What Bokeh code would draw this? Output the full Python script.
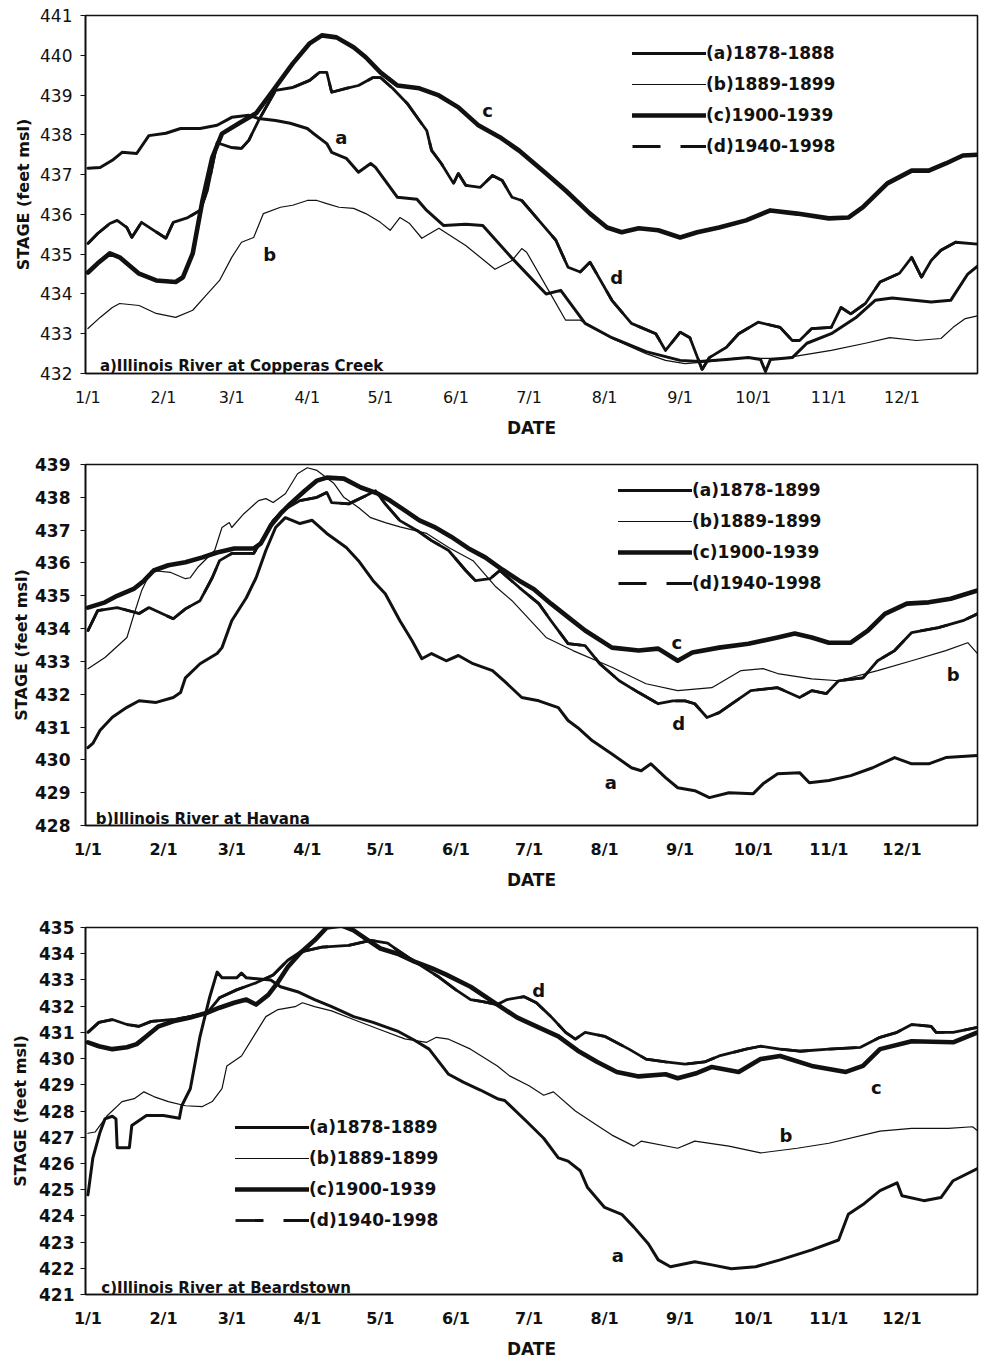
from bokeh.plotting import figure
from bokeh.layouts import column
from bokeh.models import Range1d, FixedTicker, Label, Legend, LegendItem
from bokeh.embed import file_html
from bokeh.resources import INLINE
from bokeh.core.properties import value

# ---------------- data (day of year, stage in feet msl) ----------------
month_ticks = [0, 31, 59, 90, 120, 151, 181, 212, 243, 273, 304, 334]
month_labels = ["1/1", "2/1", "3/1", "4/1", "5/1", "6/1", "7/1", "8/1", "9/1", "10/1", "11/1", "12/1"]

# Panel a) Copperas Creek
cc_a_day = [0, 5, 10, 14, 20, 25, 32, 38, 46, 53, 59, 66, 70, 77, 83, 90, 92, 98, 100, 106, 111, 116, 118, 127, 135, 139, 146, 155, 162, 174, 188, 194, 204, 215, 229, 243, 251, 262, 271, 276, 278, 280, 289, 295, 305, 315, 323, 330, 346, 354, 361, 365]
cc_a_stage = [437.16, 437.18, 437.36, 437.56, 437.53, 437.98, 438.04, 438.16, 438.16, 438.24, 438.44, 438.49, 438.41, 438.36, 438.29, 438.16, 438.06, 437.78, 437.56, 437.41, 437.06, 437.28, 437.18, 436.43, 436.38, 436.1, 435.72, 435.75, 435.72, 434.9, 434.0, 434.09, 433.26, 432.9, 432.55, 432.33, 432.3, 432.35, 432.4, 432.35, 432.05, 432.35, 432.4, 432.76, 433.0, 433.4, 433.84, 433.9, 433.8, 433.84, 434.5, 434.7]
cc_b_day = [0, 5, 10, 13, 21, 28, 36, 43, 49, 54, 59, 63, 68, 72, 79, 84, 90, 94, 98, 103, 109, 114, 120, 124, 128, 132, 137, 144, 155, 167, 174, 178, 180, 189, 196, 202, 215, 229, 237, 245, 255, 265, 285, 305, 319, 329, 340, 350, 355, 360, 365]
cc_b_stage = [433.13, 433.41, 433.66, 433.76, 433.71, 433.51, 433.41, 433.59, 434.0, 434.34, 434.92, 435.3, 435.42, 436.02, 436.18, 436.23, 436.35, 436.35, 436.27, 436.18, 436.15, 436.02, 435.8, 435.6, 435.92, 435.77, 435.4, 435.65, 435.22, 434.62, 434.84, 435.14, 435.05, 434.09, 433.34, 433.34, 432.88, 432.5, 432.33, 432.25, 432.3, 432.38, 432.38, 432.58, 432.76, 432.9, 432.83, 432.88, 433.16, 433.38, 433.45]
cc_c_day = [0, 4, 9, 13, 21, 28, 36, 39, 43, 47, 51, 55, 62, 69, 76, 84, 91, 96, 102, 109, 114, 120, 127, 136, 144, 152, 160, 169, 177, 188, 196, 206, 213, 219, 226, 234, 243, 250, 259, 270, 280, 291, 304, 312, 318, 328, 338, 345, 352, 359, 365]
cc_c_stage = [434.54, 434.77, 435.02, 434.92, 434.51, 434.34, 434.3, 434.42, 435.02, 436.35, 437.43, 438.03, 438.29, 438.54, 439.12, 439.79, 440.3, 440.5, 440.45, 440.2, 439.95, 439.57, 439.24, 439.17, 438.99, 438.69, 438.25, 437.94, 437.6, 437.03, 436.6, 436.02, 435.67, 435.55, 435.65, 435.6, 435.42, 435.55, 435.67, 435.85, 436.1, 436.02, 435.9, 435.92, 436.18, 436.78, 437.1, 437.1, 437.28, 437.48, 437.5]
cc_d_day = [0, 4, 9, 12, 16, 18, 22, 27, 32, 35, 41, 46, 49, 53, 59, 63, 66, 70, 77, 84, 91, 95, 98, 100, 106, 111, 117, 120, 125, 131, 136, 139, 141, 145, 150, 152, 155, 161, 166, 170, 174, 178, 185, 192, 197, 202, 206, 215, 223, 233, 237, 243, 247, 252, 255, 262, 267, 275, 284, 289, 292, 297, 305, 309, 313, 319, 325, 333, 338, 342, 346, 350, 356, 365]
cc_d_stage = [435.27, 435.52, 435.77, 435.85, 435.67, 435.42, 435.8, 435.6, 435.4, 435.8, 435.92, 436.1, 436.6, 437.8, 437.68, 437.66, 437.86, 438.36, 439.12, 439.19, 439.37, 439.57, 439.57, 439.07, 439.17, 439.24, 439.44, 439.44, 439.17, 438.79, 438.36, 438.11, 437.61, 437.28, 436.78, 437.03, 436.73, 436.68, 436.98, 436.85, 436.43, 436.35, 435.85, 435.35, 434.67, 434.55, 434.8, 433.84, 433.26, 433.0, 432.58, 433.04, 432.9, 432.1, 432.4, 432.66, 433.0, 433.29, 433.16, 432.83, 432.83, 433.13, 433.16, 433.66, 433.5, 433.76, 434.3, 434.52, 434.92, 434.42, 434.84, 435.1, 435.3, 435.25]

# Panel b) Havana
hv_a_day = [0, 2, 5, 10, 16, 21, 28, 35, 38, 40, 46, 53, 55, 59, 65, 69, 73, 77, 81, 87, 92, 98, 106, 111, 117, 122, 128, 133, 137, 141, 147, 152, 158, 166, 172, 178, 185, 193, 197, 201, 207, 215, 223, 227, 231, 237, 242, 249, 255, 263, 273, 277, 283, 292, 296, 304, 313, 322, 331, 338, 345, 352, 365]
hv_a_stage = [430.37, 430.5, 430.9, 431.3, 431.6, 431.8, 431.75, 431.9, 432.05, 432.5, 432.93, 433.24, 433.42, 434.24, 434.94, 435.55, 436.38, 437.08, 437.38, 437.2, 437.3, 436.9, 436.47, 436.07, 435.46, 435.06, 434.24, 433.63, 433.08, 433.24, 433.02, 433.18, 432.93, 432.72, 432.32, 431.9, 431.8, 431.59, 431.2, 430.98, 430.58, 430.18, 429.76, 429.67, 429.88, 429.46, 429.15, 429.06, 428.85, 429.0, 428.97, 429.27, 429.58, 429.61, 429.3, 429.37, 429.52, 429.76, 430.07, 429.88, 429.88, 430.07, 430.13]
hv_b_day = [0, 7, 16, 19, 22, 26, 34, 40, 42, 45, 52, 55, 58, 59, 64, 70, 73, 76, 81, 86, 90, 94, 101, 105, 111, 116, 122, 128, 139, 148, 158, 167, 174, 188, 199, 215, 229, 242, 256, 268, 277, 283, 297, 308, 324, 338, 352, 361, 365]
hv_b_stage = [432.78, 433.12, 433.73, 434.46, 435.15, 435.77, 435.71, 435.52, 435.55, 435.86, 436.38, 437.08, 437.23, 437.08, 437.5, 437.9, 437.96, 437.84, 438.11, 438.72, 438.9, 438.82, 438.42, 438.0, 437.69, 437.38, 437.23, 437.1, 436.9, 436.47, 436.07, 435.3, 434.85, 433.73, 433.33, 432.82, 432.32, 432.11, 432.2, 432.72, 432.78, 432.63, 432.47, 432.41, 432.72, 433.02, 433.33, 433.57, 433.24]
hv_c_day = [0, 7, 12, 19, 23, 27, 33, 40, 47, 53, 60, 68, 71, 75, 79, 83, 89, 94, 98, 105, 112, 119, 124, 130, 136, 142, 149, 156, 163, 170, 177, 183, 190, 197, 204, 215, 226, 234, 242, 248, 259, 271, 283, 290, 297, 304, 313, 320, 327, 336, 345, 354, 365]
hv_c_stage = [434.64, 434.8, 435.0, 435.22, 435.46, 435.77, 435.93, 436.02, 436.17, 436.32, 436.44, 436.44, 436.6, 437.14, 437.5, 437.8, 438.2, 438.51, 438.6, 438.57, 438.3, 438.11, 437.9, 437.6, 437.3, 437.1, 436.8, 436.45, 436.17, 435.8, 435.46, 435.2, 434.76, 434.35, 433.94, 433.42, 433.33, 433.39, 433.02, 433.27, 433.42, 433.54, 433.73, 433.85, 433.73, 433.57, 433.57, 433.94, 434.45, 434.76, 434.8, 434.91, 435.16]
hv_d_day = [0, 4, 12, 21, 25, 35, 40, 46, 51, 54, 59, 68, 72, 76, 80, 87, 94, 98, 100, 107, 114, 118, 122, 128, 135, 141, 148, 155, 159, 165, 169, 177, 185, 190, 197, 204, 210, 218, 226, 234, 240, 245, 249, 254, 259, 264, 272, 283, 292, 297, 303, 308, 318, 324, 331, 338, 349, 359, 365]
hv_d_stage = [433.94, 434.55, 434.64, 434.46, 434.64, 434.3, 434.6, 434.85, 435.55, 436.07, 436.29, 436.29, 436.77, 437.29, 437.6, 437.9, 438.0, 438.15, 437.84, 437.8, 438.05, 438.2, 437.8, 437.29, 436.99, 436.68, 436.38, 435.77, 435.46, 435.52, 435.77, 435.25, 434.76, 434.24, 433.54, 433.48, 432.93, 432.41, 432.05, 431.71, 431.8, 431.8, 431.71, 431.29, 431.44, 431.7, 432.11, 432.2, 431.9, 432.11, 432.02, 432.41, 432.5, 433.02, 433.33, 433.88, 434.03, 434.24, 434.45]

# Panel c) Beardstown
bt_a_day = [0, 2, 5, 7, 10, 11.5, 12, 17, 18, 24, 31, 37.5, 38.5, 42, 46, 50, 53, 55, 61, 63, 65, 75, 79, 86, 93, 100, 109, 117, 127, 134, 140, 148, 154, 161, 168, 171, 180, 187, 193, 197, 202, 205, 212, 219, 224, 230, 234, 239, 249, 256, 264, 274, 284, 297, 308, 312, 318, 325, 332, 334, 343, 350, 355, 365]
bt_a_stage = [424.8, 426.2, 427.2, 427.7, 427.8, 427.7, 426.6, 426.6, 427.45, 427.83, 427.83, 427.72, 428.2, 428.85, 430.85, 432.36, 433.3, 433.08, 433.08, 433.26, 433.08, 433.0, 432.74, 432.55, 432.25, 431.98, 431.6, 431.38, 431.05, 430.7, 430.36, 429.4, 429.1, 428.8, 428.47, 428.4, 427.6, 426.96, 426.21, 426.09, 425.72, 425.08, 424.32, 424.06, 423.57, 422.93, 422.32, 422.06, 422.25, 422.13, 421.98, 422.06, 422.32, 422.7, 423.08, 424.06, 424.43, 424.96, 425.26, 424.77, 424.58, 424.7, 425.34, 425.8]
bt_b_day = [0, 3, 8, 14, 19, 23, 27, 33, 40, 47, 51, 55, 57, 63, 69, 73, 78, 85, 88, 93, 100, 110, 120, 130, 139, 143, 148, 157, 168, 173, 181, 187, 191, 200, 209, 215, 224, 227, 242, 249, 263, 276, 291, 304, 325, 338, 353, 363, 365]
bt_b_stage = [427.15, 427.2, 427.83, 428.36, 428.47, 428.73, 428.55, 428.36, 428.2, 428.17, 428.36, 428.85, 429.72, 430.1, 431.0, 431.6, 431.87, 431.98, 432.13, 431.98, 431.82, 431.45, 431.1, 430.75, 430.62, 430.81, 430.74, 430.36, 429.72, 429.34, 428.96, 428.6, 428.73, 428.0, 427.45, 427.08, 426.66, 426.85, 426.58, 426.85, 426.66, 426.4, 426.58, 426.77, 427.23, 427.34, 427.34, 427.4, 427.25]
bt_c_day = [0, 4.5, 10, 16, 20, 24, 29, 35, 42, 49, 54, 60, 65, 69, 74, 78, 82, 87, 93, 98, 104, 109, 115, 120, 127, 134, 141, 147, 157, 168, 176, 184, 193, 201, 209, 217, 226, 237, 242, 250, 256, 267, 276, 284, 297, 311, 318, 325, 338, 355, 365]
bt_c_stage = [430.62, 430.47, 430.36, 430.43, 430.55, 430.85, 431.23, 431.42, 431.57, 431.75, 431.94, 432.13, 432.25, 432.06, 432.43, 432.92, 433.49, 434.02, 434.51, 435.0, 435.08, 434.89, 434.51, 434.2, 434.0, 433.7, 433.45, 433.2, 432.74, 432.06, 431.57, 431.23, 430.85, 430.3, 429.87, 429.49, 429.32, 429.4, 429.25, 429.45, 429.68, 429.49, 429.98, 430.1, 429.72, 429.49, 429.72, 430.36, 430.66, 430.62, 431.0]
bt_d_day = [0, 4.5, 10, 16, 21, 26, 35, 42, 49, 54, 61, 69, 76, 82, 87, 96, 107, 116, 123, 126, 135, 144, 151, 157, 162, 168, 172, 179, 184, 190, 196, 200, 204, 212, 222, 229, 237, 245, 253, 259, 270, 276, 284, 292, 304, 317, 325, 332, 338, 346, 348, 355, 365]
bt_d_stage = [431.0, 431.38, 431.49, 431.3, 431.23, 431.42, 431.49, 431.6, 431.75, 432.32, 432.62, 432.89, 433.19, 433.75, 434.06, 434.25, 434.32, 434.51, 434.4, 434.2, 433.64, 433.11, 432.62, 432.25, 432.17, 432.06, 432.25, 432.36, 432.13, 431.6, 431.0, 430.74, 431.0, 430.85, 430.36, 429.98, 429.87, 429.79, 429.87, 430.1, 430.36, 430.47, 430.36, 430.28, 430.36, 430.43, 430.81, 431.0, 431.3, 431.23, 431.0, 431.0, 431.19]

# legend texts
cc_legend = ["(a)1878-1888", "(b)1889-1899", "(c)1900-1939", "(d)1940-1998"]
hv_legend = ["(a)1878-1899", "(b)1889-1899", "(c)1900-1939", "(d)1940-1998"]
bt_legend = ["(a)1878-1889", "(b)1889-1899", "(c)1900-1939", "(d)1940-1998"]

# curve-letter annotations (day, stage)
curve_letters = ["a", "b", "c", "d"]
cc_letter_day = [104, 74.6, 164, 217]
cc_letter_stage = [437.93, 435.0, 438.6, 434.42]
hv_letter_day = [214.5, 355, 241.6, 242.4]
hv_letter_stage = [429.3, 432.6, 433.57, 431.1]
bt_letter_day = [217.4, 286.4, 323.5, 185]
bt_letter_stage = [422.5, 427.08, 428.9, 432.6]

# ---------------- styling ----------------
FONT = "DejaVu Sans"
INK = "#111111"
SERIES_WIDTH = {"a": 3.0, "b": 1.2, "c": 4.6, "d": 2.8}
D_DASH = "28 20"


def make_panel(series, ymin, ymax, height, borders, legend_texts, legend_loc,
               title_text, title_pos, letters, tick_bold, ylab_standoff, ytick_standoff):
    top, bottom, left, right = borders
    p = figure(width=980, height=height,
               x_range=Range1d(-1, 365), y_range=Range1d(ymin, ymax),
               output_backend="svg", toolbar_location=None,
               min_border_top=top, min_border_bottom=bottom,
               min_border_left=left, min_border_right=right,
               background_fill_color="white", border_fill_color="white")
    p.xgrid.visible = False
    p.ygrid.visible = False
    p.outline_line_color = INK
    p.outline_line_width = 1.6

    renderers = {}
    # dashed sample for (d), hidden under the solid (d) curve of equal width
    d_days, d_stages = series["d"]
    d_dash = p.line(d_days, d_stages, line_color=INK, line_width=SERIES_WIDTH["d"],
                    line_dash=D_DASH, line_cap="butt")
    for key, (days, stages) in series.items():
        renderers[key] = p.line(days, stages, line_color=INK, line_join="round",
                                line_cap="round", line_width=SERIES_WIDTH[key])

    leg_renderers = [renderers["a"], renderers["b"], renderers["c"], d_dash]
    items = [LegendItem(label=t, renderers=[r]) for t, r in zip(legend_texts, leg_renderers)]
    leg = Legend(items=items, location=legend_loc,
                 glyph_width=74, glyph_height=28, label_height=28,
                 label_standoff=0, spacing=3, padding=5, margin=0,
                 border_line_color=None, background_fill_color="white",
                 background_fill_alpha=1.0,
                 label_text_font=FONT, label_text_font_style="bold",
                 label_text_font_size="17px", label_text_color=INK)
    p.add_layout(leg)

    # curve letters
    p.text(x=letters[0], y=letters[1], text=curve_letters,
           text_font=value(FONT), text_font_size=value("18px"),
           text_font_style="bold", text_color=INK,
           text_align="center", text_baseline="middle")

    # panel caption
    p.add_layout(Label(x=title_pos[0], y=title_pos[1], text=title_text,
                       text_font=FONT, text_font_style="bold",
                       text_font_size="15px", text_color=INK,
                       text_baseline="alphabetic", text_align="left"))

    weight = "bold" if tick_bold else "normal"
    # x axis
    xa = p.xaxis[0]
    xa.ticker = FixedTicker(ticks=month_ticks)
    xa.major_label_overrides = {t: l for t, l in zip(month_ticks, month_labels)}
    xa.major_tick_out = 0
    xa.major_tick_in = 0
    xa.minor_tick_out = 0
    xa.minor_tick_in = 0
    xa.axis_line_color = INK
    xa.axis_line_width = 1.6
    xa.major_label_standoff = 14
    xa.major_label_text_font = FONT
    xa.major_label_text_font_size = "16px"
    xa.major_label_text_font_style = weight
    xa.major_label_text_color = INK
    xa.axis_label = "DATE"
    xa.axis_label_text_font = FONT
    xa.axis_label_text_font_size = "17px"
    xa.axis_label_text_font_style = "bold"
    xa.axis_label_text_color = INK
    xa.axis_label_standoff = 8

    # y axis
    ya = p.yaxis[0]
    ya.ticker = FixedTicker(ticks=list(range(ymin, ymax + 1)))
    ya.major_tick_out = 5
    ya.major_tick_in = 0
    ya.minor_tick_out = 0
    ya.minor_tick_in = 0
    ya.major_tick_line_color = INK
    ya.axis_line_color = INK
    ya.axis_line_width = 1.6
    ya.major_label_standoff = ytick_standoff
    ya.major_label_text_font = FONT
    ya.major_label_text_font_size = "17px"
    ya.major_label_text_font_style = weight
    ya.major_label_text_color = INK
    ya.axis_label = "STAGE (feet msl)"
    ya.axis_label_text_font = FONT
    ya.axis_label_text_font_size = "16px"
    ya.axis_label_text_font_style = "bold"
    ya.axis_label_text_color = INK
    ya.axis_label_standoff = ylab_standoff
    return p


p1 = make_panel({"a": (cc_a_day, cc_a_stage), "b": (cc_b_day, cc_b_stage),
                 "c": (cc_c_day, cc_c_stage), "d": (cc_d_day, cc_d_stage)},
                432, 441, 448, (15, 75, 85, 3), cc_legend, (547, 213),
                "a)Illinois River at Copperas Creek", (4.9, 432.18),
                (cc_letter_day, cc_letter_stage), False, 4, 8)

p2 = make_panel({"a": (hv_a_day, hv_a_stage), "b": (hv_b_day, hv_b_stage),
                 "c": (hv_c_day, hv_c_stage), "d": (hv_d_day, hv_d_stage)},
                428, 439, 457, (16, 80, 85, 3), hv_legend, (533, 228),
                "b)Illinois River at Havana", (3.2, 428.2),
                (hv_letter_day, hv_letter_stage), True, 1, 10)

p3 = make_panel({"a": (bt_a_day, bt_a_stage), "b": (bt_b_day, bt_b_stage),
                 "c": (bt_c_day, bt_c_stage), "d": (bt_d_day, bt_d_stage)},
                421, 435, 457, (22, 68, 85, 3), bt_legend, (150, 60),
                "c)Illinois River at Beardstown", (5.5, 421.26),
                (bt_letter_day, bt_letter_stage), True, 6, 6)

layout = column(p1, p2, p3, spacing=0)
open("out.html", "w").write(file_html(layout, INLINE))
